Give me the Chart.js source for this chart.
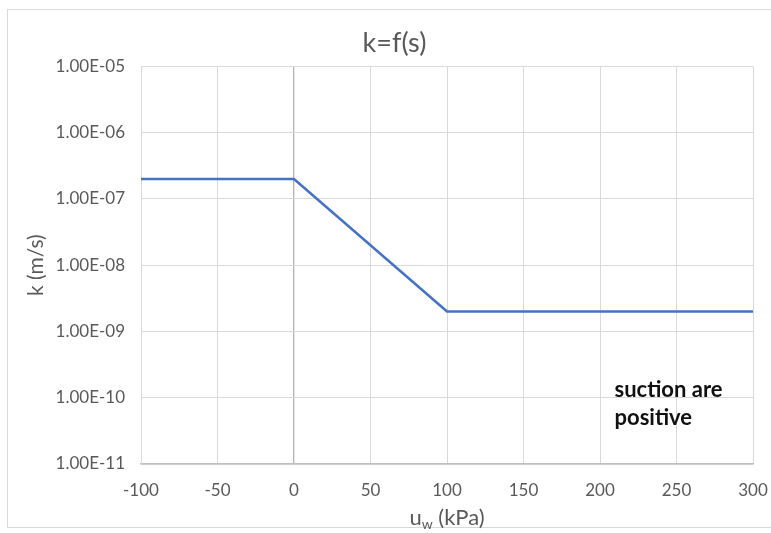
<!DOCTYPE html>
<html><head><meta charset="utf-8">
<script src="https://cdn.jsdelivr.net/npm/chart.js@4/dist/chart.umd.min.js"></script>
<style>html,body{margin:0;padding:0;background:#fff;overflow:hidden;}#wrap{position:relative;width:771px;height:533px;overflow:hidden;}</style>
</head><body><div id="wrap"><canvas id="c" width="789" height="533"></canvas></div>
<script>
const suction = [-100, 0, 100, 300];
const kValues = [2e-7, 2e-7, 2e-9, 2e-9];
const yTicks = [1e-11, 1e-10, 1e-9, 1e-8, 1e-7, 1e-6, 1e-5];
const xMin = -100, xMax = 300, xStep = 50;
const titleText = 'k=f(s)';
const yTitle = 'k (m/s)';
const noteLines = ['suction are', 'positive'];
const FONT = 'Lato, "Open Sans", sans-serif';

function fmtExp(v) {
  const e = Math.round(Math.log10(v));
  const m = v / Math.pow(10, e);
  const s = e < 0 ? '-' : '+';
  const a = Math.abs(e);
  return m.toFixed(2) + 'E' + s + (a < 10 ? '0' + a : a);
}

const extras = {
  id: 'extras',
  beforeDraw(chart) {
    const ctx = chart.ctx;
    ctx.save();
    ctx.strokeStyle = '#d9d9d9';
    ctx.lineWidth = 1;
    ctx.strokeRect(7.5, 9.5, 820, 518);
    ctx.restore();
  },
  afterDraw(chart) {
    const ctx = chart.ctx;
    const xs = chart.scales.x, ys = chart.scales.y;
    ctx.save();
    // x-axis title with subscript
    ctx.fillStyle = '#595959';
    ctx.textBaseline = 'alphabetic';
    const cx = (chart.chartArea.left + chart.chartArea.right) / 2;
    const base = 525;
    const big = '22px ' + FONT, small = '14px ' + FONT;
    ctx.font = big;
    const wU = ctx.measureText('u').width;
    const rest = ' (kPa)';
    const wR = ctx.measureText(rest).width;
    ctx.font = small;
    const wW = ctx.measureText('w').width;
    let x0 = cx - (wU + wW + wR) / 2;
    ctx.textAlign = 'left';
    ctx.font = big;
    ctx.fillText('u', x0, base);
    ctx.font = small;
    ctx.fillText('w', x0 + wU, base + 4);
    ctx.font = big;
    ctx.fillText(rest, x0 + wU + wW, base);
    // annotation
    ctx.fillStyle = '#111';
    ctx.font = 'bold 22px ' + FONT;
    ctx.textBaseline = 'middle';
    const nx = xs.getPixelForValue(209.5);
    ctx.fillText(noteLines[0], nx, ys.getPixelForValue(1.31e-10));
    ctx.fillText(noteLines[1], nx, ys.getPixelForValue(4.95e-11));
    ctx.restore();
  }
};

new Chart(document.getElementById('c'), {
  type: 'line',
  data: {
    datasets: [{
      data: suction.map((s, i) => ({x: s, y: kValues[i]})),
      borderColor: '#4472C4',
      borderWidth: 2.6,
      pointRadius: 0,
      tension: 0,
      fill: false
    }]
  },
  options: {
    responsive: false,
    animation: false,
    layout: {padding: 0},
    plugins: {
      legend: {display: false},
      tooltip: {enabled: false},
      title: {
        display: true,
        text: titleText,
        color: '#595959',
        font: {family: FONT, size: 27, weight: 'normal', lineHeight: 1.2},
        padding: {top: 27, bottom: 7}
      }
    },
    scales: {
      x: {
        type: 'linear',
        min: xMin, max: xMax,
        grid: {
          color: ctx => (ctx.tick && ctx.tick.value === 0) ? '#b3b3b3' : '#d9d9d9',
          lineWidth: ctx => (ctx.tick && ctx.tick.value === 0) ? 1.3 : 1,
          drawTicks: false
        },
        border: {color: '#bfbfbf', width: 1.5},
        ticks: {stepSize: xStep, color: '#595959', font: {family: FONT, size: 17}, padding: 16, maxRotation: 0},
        afterFit(scale) { scale.height = 69; scale.paddingRight = 36; scale.paddingLeft = 0; }
      },
      y: {
        type: 'logarithmic',
        min: yTicks[0], max: yTicks[yTicks.length - 1],
        afterBuildTicks(scale) { scale.ticks = yTicks.map(v => ({value: v})); },
        grid: {color: '#d9d9d9', drawTicks: false},
        border: {color: '#d9d9d9'},
        ticks: {color: '#595959', font: {family: FONT, size: 17}, padding: 16, callback: v => fmtExp(v)},
        title: {display: true, text: yTitle, color: '#595959', font: {family: FONT, size: 21, lineHeight: 1.2}, padding: {top: 24, bottom: 0}},
        afterFit(scale) { scale.width = 141; scale.paddingTop = 0; scale.paddingBottom = 0; }
      }
    }
  },
  plugins: [extras]
});
</script></body></html>
